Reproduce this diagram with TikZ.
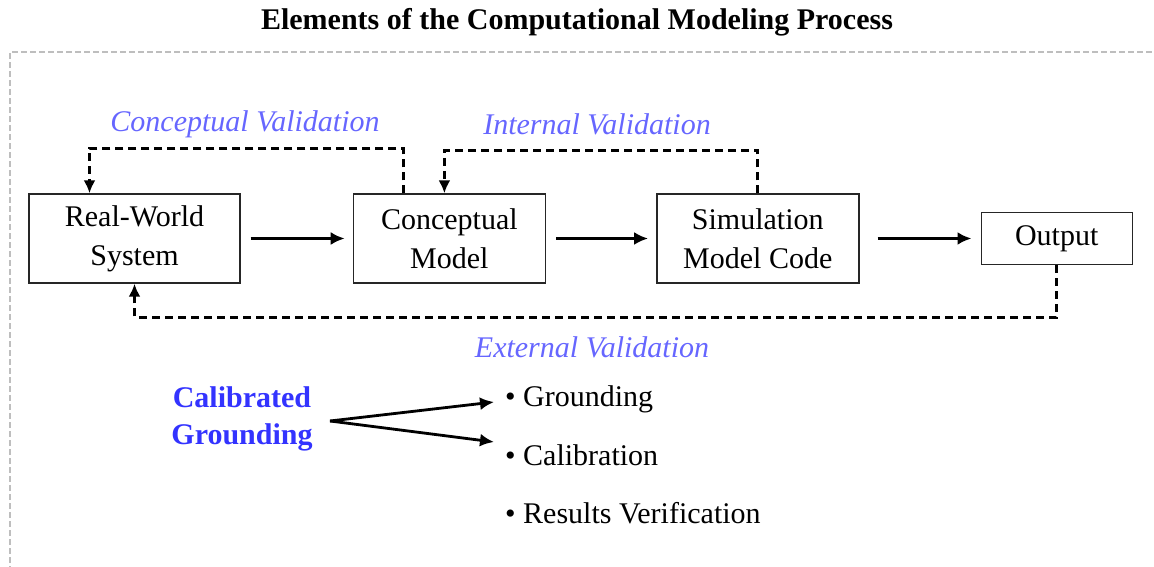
\documentclass[tikz,border=0pt]{standalone}
\usepackage{fontspec}
\setmainfont{Liberation Serif}
\usetikzlibrary{positioning,arrows.meta}
\definecolor{valblue}{RGB}{102,102,255}
\definecolor{calblue}{RGB}{51,51,255}
\definecolor{framegray}{RGB}{190,190,190}
\tikzset{
    stage/.style = {rectangle, draw=black!85, line width=1.4pt, align=center, font=\fontsize{30}{39}\selectfont, minimum height=89pt, inner sep=0pt},
    vallabel/.style = {font=\fontsize{30}{36}\selectfont\itshape, text=valblue},
    bullet/.style = {anchor=west, inner sep=0pt, font=\fontsize{30}{36}\selectfont},
    arrow/.style = {line width=2.8pt,-{Latex[length=14pt,width=13pt]}},
    feedback/.style = {line width=2.8pt,-{Latex[length=13pt,width=12pt]}, dash pattern=on 8pt off 5pt}
}
\begin{document}
\begin{tikzpicture}[x=1pt,y=1pt]
\useasboundingbox (0,0) rectangle (1154,567);
\node (title) at (577,545) {\fontsize{30}{36}\selectfont\bfseries Elements of the Computational Modeling Process};
\draw [framegray, line width=2pt, dash pattern=on 6pt off 3pt] (10,-5) -- (10,515) -- (1160,515);

\node (rw) [stage, minimum width=211pt] at (134.5,328.5) {Real-World\\System};
\node (cm) [stage, minimum width=192pt, right=112pt of rw] {Conceptual\\Model};
\node (smc) [stage, minimum width=202pt, right=110pt of cm] {Simulation\\Model Code};
\node (out) [stage, minimum width=151pt, minimum height=52pt, right=121pt of smc] {Output};

\draw [arrow, shorten <=10pt, shorten >=8pt] (rw) -- (cm);
\draw [arrow, shorten <=10pt, shorten >=8pt] (cm) -- (smc);
\draw [arrow, shorten <=18pt, shorten >=9pt] (smc) -- (out);

\draw [feedback] ([xshift=-46pt]cm.north) -- ++(0,45) -| ([xshift=-45pt]rw.north);
\draw [feedback] (smc.north) -- ++(0,43) -| ([xshift=-5pt]cm.north);
\draw [feedback] (out.south) -- ++(0,-52) -| (rw.south);

\node (cvlabel) [vallabel] at (245,443) {Conceptual Validation};
\node (ivlabel) [vallabel] at (597,443) {Internal Validation};
\node (evlabel) [vallabel] at (592,220) {External Validation};

\node (calgr) [align=center, font=\fontsize{30}{37}\selectfont\bfseries, text=calblue] at (242,148) {Calibrated\\Grounding};
\node (grd) [bullet] at (505,168) {\textbullet\ Grounding};
\node (cal) [bullet] at (505,112) {\textbullet\ Calibration};
\node (ver) [bullet] at (505,54) {\textbullet\ Results Verification};
\coordinate (fork) at (330,146);
\draw [arrow] (fork) -- ([xshift=-11pt,yshift=-3pt]grd.west);
\draw [arrow] (fork) -- ([xshift=-11pt,yshift=13pt]cal.west);
\end{tikzpicture}
\end{document}
